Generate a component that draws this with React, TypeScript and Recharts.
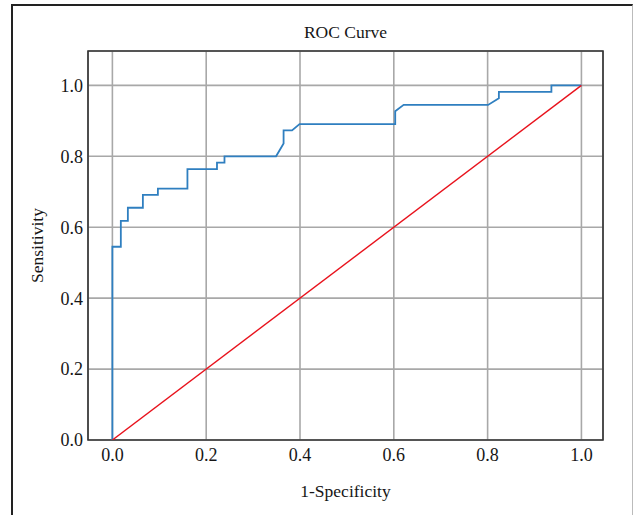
import { LineChart, Line, XAxis, YAxis, CartesianGrid, ReferenceArea } from "recharts";

// ── Data ──────────────────────────────────────────────────────────────────────
const FPR = [0, 0, 0.018, 0.018, 0.033, 0.033, 0.065, 0.065, 0.097, 0.097, 0.16, 0.16, 0.223, 0.223, 0.239, 0.239, 0.349, 0.365, 0.365, 0.383, 0.399, 0.603, 0.603, 0.621, 0.801, 0.824, 0.824, 0.936, 0.936, 1];
const TPR = [0, 0.545, 0.545, 0.618, 0.618, 0.655, 0.655, 0.691, 0.691, 0.709, 0.709, 0.764, 0.764, 0.782, 0.782, 0.8, 0.8, 0.836, 0.873, 0.873, 0.891, 0.891, 0.927, 0.945, 0.945, 0.964, 0.982, 0.982, 1, 1];
const DIAG_FPR = [0, 1];
const DIAG_TPR = [0, 1];
const TICKS = [0, 0.2, 0.4, 0.6, 0.8, 1];

const rocData = FPR.map((x, i) => ({ fpr: x, tpr: TPR[i] }));
const diagData = DIAG_FPR.map((x, i) => ({ fpr: x, tpr: DIAG_TPR[i] }));

const FONT = "'Liberation Serif', 'Times New Roman', serif";
const INK = "#161616";
const tick = { fontSize: 18, fill: INK, fontFamily: FONT };

function YTitle({ viewBox }: any) {
  const cy = viewBox.y + viewBox.height / 2;
  return (
    <text x={37} y={cy} textAnchor="middle" dominantBaseline="central"
      transform={`rotate(-90 37 ${cy})`} fontSize={17.5} fontFamily={FONT} fill={INK}>
      Sensitivity
    </text>
  );
}

function XTitle({ viewBox }: any) {
  const cx = viewBox.x + viewBox.width / 2;
  return (
    <text x={cx} y={497} textAnchor="middle" fontSize={17.5} fontFamily={FONT} fill={INK}>
      1-Specificity
    </text>
  );
}

export default function App() {
  return (
    <div style={{ position: "fixed", left: 0, top: 0, width: 634, height: 515, background: "#fff", overflow: "hidden" }}>
      {/* outer frame */}
      <div style={{
        position: "absolute", left: 11, top: 4, width: 619, height: 560,
        borderLeft: "2px solid #222", borderTop: "2px solid #222", borderRight: "1px solid #bbb",
      }} />
      <div style={{
        position: "absolute", left: 88, top: 20, width: 515, textAlign: "center",
        fontFamily: FONT, fontSize: 17.5, color: INK, lineHeight: "24px",
      }}>
        ROC Curve
      </div>
      <div style={{ position: "absolute", left: 0, top: 0 }}>
        <LineChart width={634} height={515} margin={{ top: 51, right: 31, left: 0, bottom: 0 }}>
          <CartesianGrid stroke="#a8a8a8" strokeWidth={1.6} />
          <XAxis dataKey="fpr" type="number" domain={[-0.052, 1.046]} ticks={TICKS} allowDataOverflow
            tickFormatter={(v: number) => v.toFixed(1)} height={75} tick={tick}
            tickLine={false} axisLine={false} label={<XTitle />} />
          <YAxis type="number" domain={[0, 1.097]} ticks={TICKS} allowDataOverflow
            tickFormatter={(v: number) => v.toFixed(1)} width={88} tick={tick}
            tickLine={false} axisLine={false} tickSize={4} tickMargin={1} label={<YTitle />} />
          <ReferenceArea x1={-0.052} x2={1.046} y1={0} y2={1.097} fill="none" stroke="#333" strokeWidth={1.6} ifOverflow="visible" />
          <Line data={rocData} dataKey="tpr" type="linear" stroke="#2f7fc0" strokeWidth={1.8}
            dot={false} activeDot={false} isAnimationActive={false} />
          <Line data={diagData} dataKey="tpr" type="linear" stroke="#e8121c" strokeWidth={1.4}
            dot={false} activeDot={false} isAnimationActive={false} />
        </LineChart>
      </div>
    </div>
  );
}
